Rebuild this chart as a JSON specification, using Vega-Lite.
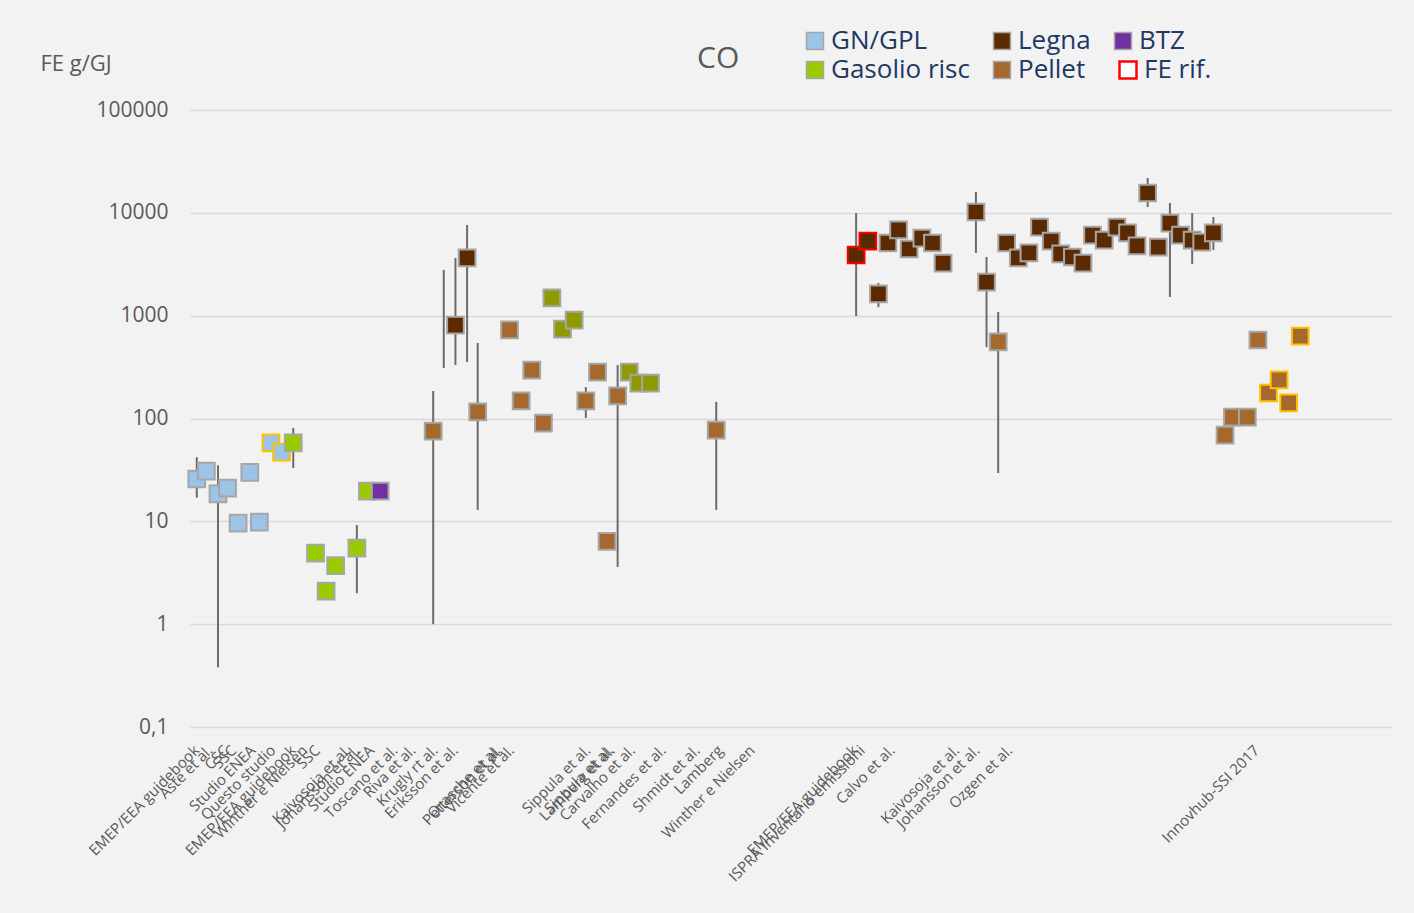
{
  "$schema": "https://vega.github.io/schema/vega-lite/v6.json",
  "width": 1202,
  "height": 617,
  "autosize": {"type": "none"},
  "padding": {"left": 190, "top": 110, "right": 22, "bottom": 186},
  "background": "#F2F2F2",
  "config": {
    "view": {"stroke": null},
    "font": "Open Sans",
    "legend": {"symbolBaseFillColor": "#FFFFFF", "symbolBaseStrokeColor": "#A6A6A6", "padding": 0}
  },
  "title": {"text": "CO", "anchor": "start", "frame": "group", "dx": 507, "offset": -70, "baseline": "alphabetic", "fontSize": 30, "fontWeight": "normal", "color": "#595959", "font": "Open Sans"},
  "datasets": {
    "punti": [
      {"pos": 3.0, "val": 25.8, "lo": 17, "hi": 42, "series": "GN/GPL", "border": "nessuno"},
      {"pos": 3.9, "val": 30.8, "lo": null, "hi": null, "series": "GN/GPL", "border": "nessuno"},
      {"pos": 5.0, "val": 18.5, "lo": 0.38, "hi": 35, "series": "GN/GPL", "border": "nessuno"},
      {"pos": 5.9, "val": 21, "lo": null, "hi": null, "series": "GN/GPL", "border": "nessuno"},
      {"pos": 6.9, "val": 9.6, "lo": null, "hi": null, "series": "GN/GPL", "border": "nessuno"},
      {"pos": 8.0, "val": 30, "lo": null, "hi": null, "series": "GN/GPL", "border": "nessuno"},
      {"pos": 8.9, "val": 9.8, "lo": null, "hi": null, "series": "GN/GPL", "border": "nessuno"},
      {"pos": 10.0, "val": 57.8, "lo": null, "hi": null, "series": "GN/GPL", "border": "Questo studio"},
      {"pos": 11.0, "val": 47, "lo": null, "hi": null, "series": "GN/GPL", "border": "Questo studio"},
      {"pos": 12.1, "val": 57.8, "lo": 33, "hi": 81, "series": "Gasolio risc", "border": "nessuno"},
      {"pos": 14.2, "val": 4.9, "lo": null, "hi": null, "series": "Gasolio risc", "border": "nessuno"},
      {"pos": 15.2, "val": 2.1, "lo": null, "hi": null, "series": "Gasolio risc", "border": "nessuno"},
      {"pos": 16.1, "val": 3.7, "lo": null, "hi": null, "series": "Gasolio risc", "border": "nessuno"},
      {"pos": 18.1, "val": 5.5, "lo": 2.0, "hi": 9.2, "series": "Gasolio risc", "border": "nessuno"},
      {"pos": 19.1, "val": 19.7, "lo": null, "hi": null, "series": "Gasolio risc", "border": "nessuno"},
      {"pos": 20.3, "val": 19.7, "lo": null, "hi": null, "series": "BTZ", "border": "nessuno"},
      {"pos": 25.3, "val": 75.5, "lo": 1.0, "hi": 185, "series": "Pellet", "border": "nessuno"},
      {"pos": 26.3, "val": null, "lo": 310, "hi": 2780, "series": "Legna", "border": "nessuno"},
      {"pos": 27.4, "val": 811, "lo": 331, "hi": 3640, "series": "Legna", "border": "nessuno"},
      {"pos": 28.5, "val": 3640, "lo": 354, "hi": 7620, "series": "Legna", "border": "nessuno"},
      {"pos": 29.5, "val": 116, "lo": 12.9, "hi": 542, "series": "Pellet", "border": "nessuno"},
      {"pos": 32.5, "val": 726, "lo": null, "hi": null, "series": "Pellet", "border": "nessuno"},
      {"pos": 33.6, "val": 148, "lo": null, "hi": null, "series": "Pellet", "border": "nessuno"},
      {"pos": 34.6, "val": 296, "lo": null, "hi": null, "series": "Pellet", "border": "nessuno"},
      {"pos": 35.7, "val": 90, "lo": null, "hi": null, "series": "Pellet", "border": "nessuno"},
      {"pos": 36.5, "val": 1486, "lo": null, "hi": null, "series": "Gasolio (altro)", "border": "nessuno"},
      {"pos": 37.5, "val": 741, "lo": null, "hi": null, "series": "Gasolio (altro)", "border": "nessuno"},
      {"pos": 38.6, "val": 907, "lo": null, "hi": null, "series": "Gasolio (altro)", "border": "nessuno"},
      {"pos": 39.7, "val": 148, "lo": 101, "hi": 202, "series": "Pellet", "border": "nessuno"},
      {"pos": 40.8, "val": 283, "lo": 240, "hi": 330, "series": "Pellet", "border": "nessuno"},
      {"pos": 41.7, "val": 6.4, "lo": null, "hi": null, "series": "Pellet", "border": "nessuno"},
      {"pos": 42.7, "val": 166, "lo": 3.6, "hi": 331, "series": "Pellet", "border": "nessuno"},
      {"pos": 43.8, "val": 283, "lo": null, "hi": null, "series": "Gasolio (altro)", "border": "nessuno"},
      {"pos": 44.7, "val": 221, "lo": null, "hi": null, "series": "Gasolio (altro)", "border": "nessuno"},
      {"pos": 45.8, "val": 221, "lo": null, "hi": null, "series": "Gasolio (altro)", "border": "nessuno"},
      {"pos": 52.0, "val": 77, "lo": 12.9, "hi": 145, "series": "Pellet", "border": "nessuno"},
      {"pos": 65.2, "val": 3890, "lo": 993, "hi": 9950, "series": "Legna", "border": "FE rif."},
      {"pos": 66.3, "val": 5320, "lo": null, "hi": null, "series": "Legna", "border": "FE rif."},
      {"pos": 67.3, "val": 1625, "lo": 1210, "hi": 2080, "series": "Legna", "border": "nessuno"},
      {"pos": 68.2, "val": 5090, "lo": null, "hi": null, "series": "Legna", "border": "nessuno"},
      {"pos": 69.2, "val": 6810, "lo": null, "hi": null, "series": "Legna", "border": "nessuno"},
      {"pos": 70.2, "val": 4450, "lo": null, "hi": null, "series": "Legna", "border": "nessuno"},
      {"pos": 71.4, "val": 5690, "lo": null, "hi": null, "series": "Legna", "border": "nessuno"},
      {"pos": 72.4, "val": 5090, "lo": null, "hi": null, "series": "Legna", "border": "nessuno"},
      {"pos": 73.4, "val": 3250, "lo": null, "hi": null, "series": "Legna", "border": "nessuno"},
      {"pos": 76.5, "val": 10190, "lo": 4070, "hi": 15950, "series": "Legna", "border": "nessuno"},
      {"pos": 77.5, "val": 2120, "lo": 495, "hi": 3720, "series": "Legna", "border": "nessuno"},
      {"pos": 78.6, "val": 555, "lo": 29.5, "hi": 1087, "series": "Pellet", "border": "nessuno"},
      {"pos": 79.4, "val": 5090, "lo": null, "hi": null, "series": "Legna", "border": "nessuno"},
      {"pos": 80.5, "val": 3640, "lo": null, "hi": null, "series": "Legna", "border": "nessuno"},
      {"pos": 81.5, "val": 4070, "lo": null, "hi": null, "series": "Legna", "border": "nessuno"},
      {"pos": 82.5, "val": 7280, "lo": null, "hi": null, "series": "Legna", "border": "nessuno"},
      {"pos": 83.6, "val": 5320, "lo": null, "hi": null, "series": "Legna", "border": "nessuno"},
      {"pos": 84.5, "val": 3980, "lo": null, "hi": null, "series": "Legna", "border": "nessuno"},
      {"pos": 85.6, "val": 3720, "lo": null, "hi": null, "series": "Legna", "border": "nessuno"},
      {"pos": 86.6, "val": 3250, "lo": null, "hi": null, "series": "Legna", "border": "nessuno"},
      {"pos": 87.5, "val": 6080, "lo": null, "hi": null, "series": "Legna", "border": "nessuno"},
      {"pos": 88.6, "val": 5440, "lo": null, "hi": null, "series": "Legna", "border": "nessuno"},
      {"pos": 89.8, "val": 7280, "lo": null, "hi": null, "series": "Legna", "border": "nessuno"},
      {"pos": 90.8, "val": 6370, "lo": null, "hi": null, "series": "Legna", "border": "nessuno"},
      {"pos": 91.7, "val": 4760, "lo": null, "hi": null, "series": "Legna", "border": "nessuno"},
      {"pos": 92.7, "val": 15590, "lo": 11400, "hi": 21800, "series": "Legna", "border": "nessuno"},
      {"pos": 93.7, "val": 4650, "lo": null, "hi": null, "series": "Legna", "border": "nessuno"},
      {"pos": 94.8, "val": 7960, "lo": 1520, "hi": 12470, "series": "Legna", "border": "nessuno"},
      {"pos": 95.8, "val": 6080, "lo": null, "hi": null, "series": "Legna", "border": "nessuno"},
      {"pos": 96.9, "val": 5440, "lo": 3180, "hi": 9950, "series": "Legna", "border": "nessuno"},
      {"pos": 97.8, "val": 5200, "lo": null, "hi": null, "series": "Legna", "border": "nessuno"},
      {"pos": 98.9, "val": 6370, "lo": 4350, "hi": 9100, "series": "Legna", "border": "nessuno"},
      {"pos": 100.0, "val": 69, "lo": null, "hi": null, "series": "Pellet", "border": "nessuno"},
      {"pos": 100.7, "val": 103, "lo": null, "hi": null, "series": "Pellet", "border": "nessuno"},
      {"pos": 102.1, "val": 103, "lo": null, "hi": null, "series": "Pellet", "border": "nessuno"},
      {"pos": 103.1, "val": 580, "lo": null, "hi": null, "series": "Pellet", "border": "nessuno"},
      {"pos": 104.1, "val": 177, "lo": null, "hi": null, "series": "Pellet", "border": "Questo studio"},
      {"pos": 105.1, "val": 237, "lo": null, "hi": null, "series": "Pellet", "border": "Questo studio"},
      {"pos": 106.0, "val": 142, "lo": null, "hi": null, "series": "Pellet", "border": "Questo studio"},
      {"pos": 107.1, "val": 634, "lo": null, "hi": null, "series": "Pellet", "border": "Questo studio"}
    ],
    "etichette": [
      {"pos": 3.0, "etichetta": "EMEP/EEA guidebook"},
      {"pos": 4.25, "etichetta": "Aste et al."},
      {"pos": 5.8, "etichetta": "CSC"},
      {"pos": 6.5, "etichetta": "SSC"},
      {"pos": 8.3, "etichetta": "Studio ENEA"},
      {"pos": 10.2, "etichetta": "Questo studio"},
      {"pos": 12.1, "etichetta": "EMEP/EEA guidebook"},
      {"pos": 13.2, "etichetta": "Winther e Nielsen"},
      {"pos": 14.4, "etichetta": "SSC"},
      {"pos": 17.3, "etichetta": "Kaivosoja et al."},
      {"pos": 18.1, "etichetta": "Johansson et al."},
      {"pos": 19.5, "etichetta": "Studio ENEA"},
      {"pos": 21.7, "etichetta": "Toscano et al."},
      {"pos": 23.4, "etichetta": "Riva et al."},
      {"pos": 25.5, "etichetta": "Krugly rt al."},
      {"pos": 27.4, "etichetta": "Eriksson et al."},
      {"pos": 31.4, "etichetta": "Orasche et al."},
      {"pos": 31.6, "etichetta": "Petterson et al."},
      {"pos": 32.7, "etichetta": "Vicente et al."},
      {"pos": 39.9, "etichetta": "Sippula et al."},
      {"pos": 42.0, "etichetta": "Sippula et al."},
      {"pos": 42.2, "etichetta": "Lamberg et al."},
      {"pos": 44.1, "etichetta": "Carvalho et al."},
      {"pos": 47.0, "etichetta": "Fernandes et al."},
      {"pos": 50.2, "etichetta": "Shmidt et al."},
      {"pos": 52.4, "etichetta": "Lamberg"},
      {"pos": 55.4, "etichetta": "Winther e Nielsen"},
      {"pos": 65.1, "etichetta": "EMEP/EEA guidebook"},
      {"pos": 65.8, "etichetta": "ISPRA Inventario emissioni"},
      {"pos": 68.6, "etichetta": "Calvo et al."},
      {"pos": 74.7, "etichetta": "Kaivosoja et al."},
      {"pos": 76.6, "etichetta": "Johansson et al."},
      {"pos": 79.7, "etichetta": "Ozgen et al."},
      {"pos": 103.0, "etichetta": "Innovhub-SSI 2017"}
    ]
  },
  "layer": [
    {
      "data": {"name": "punti"},
      "transform": [{"filter": "datum.lo != null"}],
      "mark": {"type": "rule", "color": "#6B6B6B", "strokeWidth": 2},
      "encoding": {
        "x": {"field": "pos", "type": "quantitative", "scale": {"domain": [2.36, 115.75], "nice": false, "zero": false}, "axis": null},
        "y": {
          "field": "lo", "type": "quantitative",
          "scale": {"type": "log", "domain": [0.1, 100000], "nice": false},
          "axis": {
            "title": "FE g/GJ", "titleAngle": 0, "titleX": -150, "titleY": -47, "titleAlign": "left", "titleBaseline": "middle",
            "titleFontSize": 22, "titleFontWeight": "normal", "titleColor": "#595959", "titleFont": "Open Sans",
            "values": [0.1, 1, 10, 100, 1000, 10000, 100000],
            "labelExpr": "datum.value < 1 ? '0,1' : format(datum.value, 'd')",
            "labelFontSize": 21, "labelColor": "#595959", "labelFont": "Open Sans", "labelPadding": 22,
            "ticks": false, "domain": false, "grid": true, "gridColor": "#D9D9D9", "gridWidth": 1.3
          }
        },
        "y2": {"field": "hi"}
      }
    },
    {
      "data": {"name": "punti"},
      "transform": [{"filter": "datum.val != null"}],
      "mark": {"type": "point", "shape": "square", "filled": true, "size": 280, "strokeWidth": 2, "opacity": 1},
      "encoding": {
        "x": {"field": "pos", "type": "quantitative", "scale": {"domain": [2.36, 115.75], "nice": false, "zero": false}, "axis": null},
        "y": {"field": "val", "type": "quantitative", "scale": {"type": "log", "domain": [0.1, 100000], "nice": false}},
        "fill": {
          "field": "series", "type": "nominal",
          "scale": {"domain": ["GN/GPL", "Gasolio risc", "Legna", "Pellet", "BTZ", "Gasolio (altro)"], "range": ["#9DC3E6", "#99CC00", "#5C2A00", "#A5682F", "#7030A0", "#8E9A00"]},
          "legend": {
            "title": null, "orient": "none", "legendX": 612, "legendY": -82, "columns": 3,
            "values": ["GN/GPL", "Gasolio risc", "Legna", "Pellet", "BTZ"],
            "symbolType": "square", "symbolSize": 289, "symbolStrokeColor": "#A6A6A6", "symbolStrokeWidth": 1.5, "symbolOpacity": 1,
            "labelFontSize": 26, "labelColor": "#1F3864", "labelFont": "Open Sans", "labelOffset": 3, "labelLimit": 300,
            "columnPadding": 19, "rowPadding": 3
          }
        },
        "stroke": {
          "field": "border", "type": "nominal",
          "scale": {"domain": ["FE rif.", "Questo studio", "nessuno"], "range": ["#FF0000", "#FFC000", "#A6A6A6"]},
          "legend": {
            "title": null, "orient": "none", "legendX": 925, "legendY": -53,
            "values": ["FE rif."],
            "symbolType": "square", "symbolSize": 289, "symbolFillColor": "#FFFFFF", "symbolStrokeWidth": 2.5, "symbolOpacity": 1,
            "labelFontSize": 26, "labelColor": "#1F3864", "labelFont": "Open Sans", "labelOffset": 3, "labelLimit": 300
          }
        }
      }
    },
    {
      "data": {"name": "etichette"},
      "mark": {"type": "text", "angle": -45, "align": "right", "baseline": "middle", "dx": -14.8, "dy": 14.8, "fontSize": 15, "font": "Open Sans", "color": "#595959"},
      "encoding": {
        "x": {"field": "pos", "type": "quantitative", "scale": {"domain": [2.36, 115.75], "nice": false, "zero": false}},
        "y": {"datum": 0.1, "type": "quantitative"},
        "text": {"field": "etichetta"}
      }
    }
  ]
}
